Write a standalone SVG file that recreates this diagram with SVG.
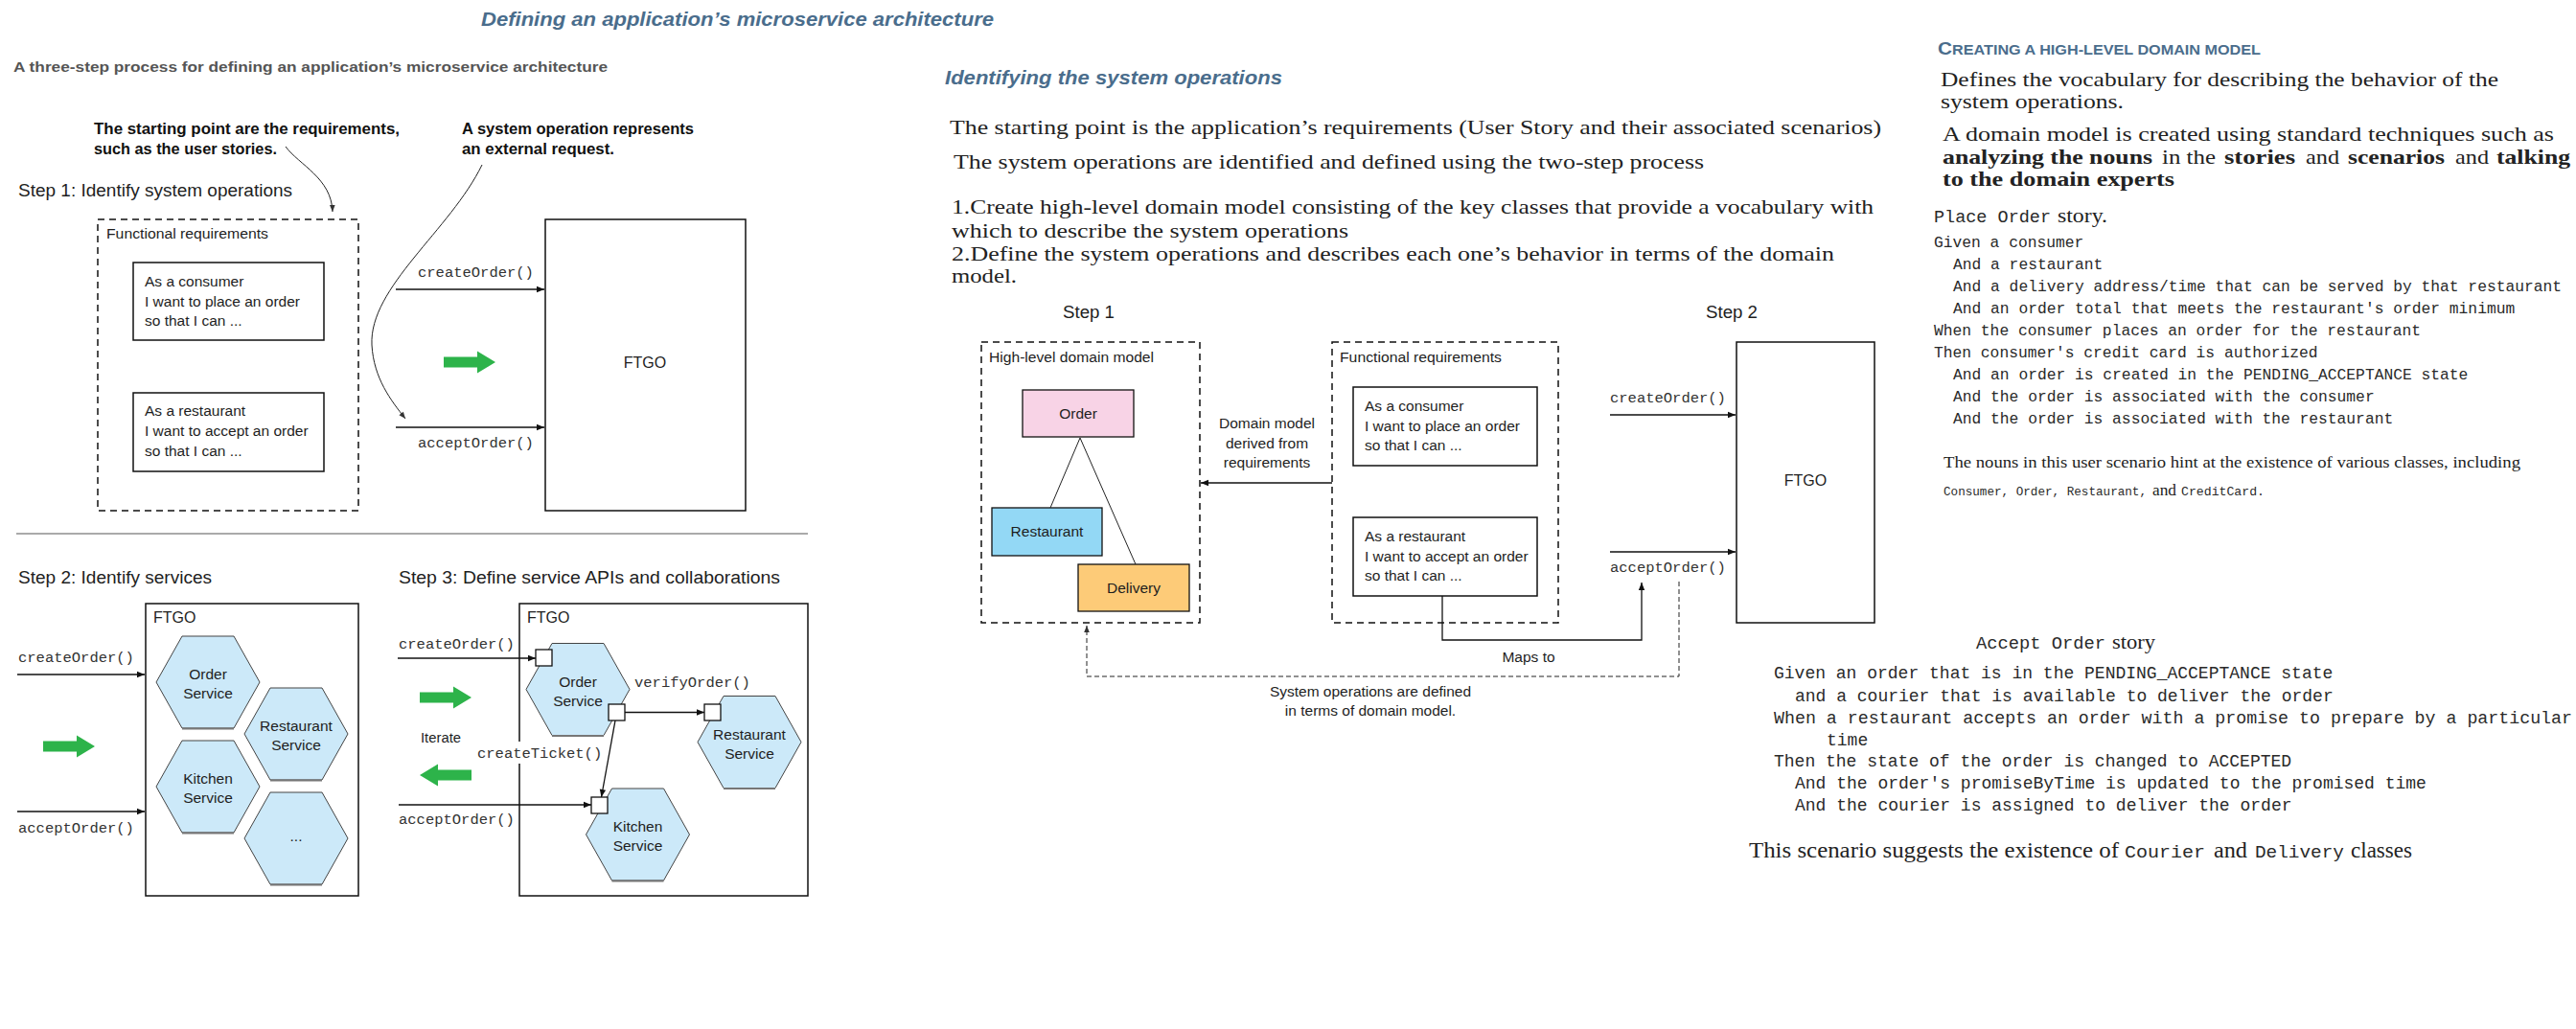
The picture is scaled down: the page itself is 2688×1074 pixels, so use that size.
<svg xmlns="http://www.w3.org/2000/svg" xmlns:xlink="http://www.w3.org/1999/xlink" width="2688" height="1074" viewBox="0 0 2688 1074">
<style>
text{fill:#1e1e1e}
.hd{font-family:"Liberation Sans",Arial,sans-serif;font-weight:bold;font-style:italic;font-size:21px;fill:#4a6d8c}
.sub{font-family:"Liberation Sans",Arial,sans-serif;font-weight:bold;font-size:15px;fill:#555}
.ann{font-family:"Liberation Sans",Arial,sans-serif;font-weight:bold;font-size:17px;fill:#111}
.step{font-family:"Liberation Sans",Arial,sans-serif;font-size:18px;fill:#1e1e1e}
.lbl{font-family:"Liberation Sans",Arial,sans-serif;font-size:15.5px;fill:#1e1e1e}
.ctr{text-anchor:middle}
.code{font-family:"Liberation Mono","Courier New",monospace;font-size:15.5px;fill:#333}
.ser{font-family:"Liberation Serif","Times New Roman",serif;font-size:21px;fill:#222}
.ser2{font-family:"Liberation Serif","Times New Roman",serif;font-size:22px;fill:#222}
.mono{font-family:"Liberation Mono","Courier New",monospace;fill:#2a2a2a}
.box{fill:#fff;stroke:#111;stroke-width:1.5}
.dash{fill:none;stroke:#111;stroke-width:1.5;stroke-dasharray:7 5}
.ln{fill:none;stroke:#111;stroke-width:1.3}
.thin{fill:none;stroke:#222;stroke-width:1}
.sq{fill:#fff;stroke:#111;stroke-width:1.3}
</style>
<defs>
<marker id="ah" viewBox="0 0 10 10" refX="10" refY="5" markerWidth="10" markerHeight="8" markerUnits="userSpaceOnUse" orient="auto"><path d="M0,1 L10,5 L0,9 Z" fill="#111"/></marker>
<marker id="ahs" viewBox="0 0 10 10" refX="10" refY="5" markerWidth="8" markerHeight="7" markerUnits="userSpaceOnUse" orient="auto"><path d="M0,1 L10,5 L0,9 Z" fill="#333"/></marker>
<g id="hex">
<polygon points="-54,0 -27,-48 27,-48 54,0 27,48 -27,48" fill="#cce9f9" stroke="#444" stroke-width="1"/>
<line x1="-27" y1="48.5" x2="27" y2="48.5" stroke="#777" stroke-width="2"/>
</g>
<path id="garrow" d="M-27,-5.5 H8 V-11.5 L27,0 L8,11.5 V5.5 H-27 Z" fill="#2db34a"/>
</defs>

<!-- ================= LEFT SECTION ================= -->
<text class="hd" x="502" y="27" textLength="535" lengthAdjust="spacingAndGlyphs">Defining an application’s microservice architecture</text>
<text class="sub" x="14" y="75" textLength="620" lengthAdjust="spacingAndGlyphs">A three-step process for defining an application’s microservice architecture</text>

<g id="annotations">
<text class="ann" x="98" y="140" textLength="319" lengthAdjust="spacingAndGlyphs">The starting point are the requirements,</text>
<text class="ann" x="98" y="161" textLength="191" lengthAdjust="spacingAndGlyphs">such as the user stories.</text>
<text class="ann" x="482" y="140" textLength="242" lengthAdjust="spacingAndGlyphs">A system operation represents</text>
<text class="ann" x="482" y="161" textLength="159" lengthAdjust="spacingAndGlyphs">an external request.</text>
</g>

<text class="step" x="19" y="205" textLength="286" lengthAdjust="spacingAndGlyphs">Step 1: Identify system operations</text>

<g id="s1-functional-requirements">
<rect class="dash" x="102" y="229" width="272" height="304"/>
<text class="lbl" x="111" y="249" textLength="169" lengthAdjust="spacingAndGlyphs">Functional requirements</text>
</g>
<g id="s1-story-consumer">
<rect class="box" x="139" y="274" width="199" height="81"/>
<text class="lbl" x="151" y="299">As a consumer</text>
<text class="lbl" x="151" y="320">I want to place an order</text>
<text class="lbl" x="151" y="340">so that I can ...</text>
</g>
<g id="s1-story-restaurant">
<rect class="box" x="139" y="410" width="199" height="82"/>
<text class="lbl" x="151" y="434">As a restaurant</text>
<text class="lbl" x="151" y="455">I want to accept an order</text>
<text class="lbl" x="151" y="476">so that I can ...</text>
</g>
<g id="s1-ftgo">
<rect class="box" x="569" y="229" width="209" height="304"/>
<text class="lbl ctr" x="673" y="384" style="font-size:16px">FTGO</text>
</g>
<use href="#garrow" transform="translate(490,378)"/>

<g id="s1-connectors">
<line class="ln" x1="413" y1="302" x2="568" y2="302" marker-end="url(#ah)"/>
<line class="ln" x1="413" y1="446" x2="568" y2="446" marker-end="url(#ah)"/>
<path class="thin" d="M298,153 C312,172 346,186 347,221" marker-end="url(#ahs)"/>
<path class="thin" d="M503,172 C470,240 385,300 388,360 C390,395 408,418 423,437" marker-end="url(#ahs)"/>
<text class="code" x="436" y="289">createOrder()</text>
<text class="code" x="436" y="467">acceptOrder()</text>
</g>

<line x1="17" y1="557" x2="843" y2="557" stroke="#aaa" stroke-width="2"/>

<text class="step" x="19" y="609" textLength="202" lengthAdjust="spacingAndGlyphs">Step 2: Identify services</text>
<text class="step" x="416" y="609" textLength="398" lengthAdjust="spacingAndGlyphs">Step 3: Define service APIs and collaborations</text>

<!-- Step 2 -->
<g id="s2-ftgo">
<rect class="box" x="152" y="630" width="222" height="305"/>
<text class="lbl" x="160" y="650" style="font-size:16px">FTGO</text>
</g>
<g id="s2-order-service">
<use href="#hex" transform="translate(217,712)"/>
<text class="lbl ctr" x="217" y="709">Order</text>
<text class="lbl ctr" x="217" y="729">Service</text>
</g>
<g id="s2-restaurant-service">
<use href="#hex" transform="translate(309,766)"/>
<text class="lbl ctr" x="309" y="763">Restaurant</text>
<text class="lbl ctr" x="309" y="783">Service</text>
</g>
<g id="s2-kitchen-service">
<use href="#hex" transform="translate(217,821)"/>
<text class="lbl ctr" x="217" y="818">Kitchen</text>
<text class="lbl ctr" x="217" y="838">Service</text>
</g>
<g id="s2-more">
<use href="#hex" transform="translate(309,875)"/>
<text class="lbl ctr" x="309" y="878">...</text>
</g>
<use href="#garrow" transform="translate(72,779)"/>
<g id="s2-connectors">
<line class="ln" x1="18" y1="704" x2="151" y2="704" marker-end="url(#ah)"/>
<line class="ln" x1="18" y1="847" x2="151" y2="847" marker-end="url(#ah)"/>
<text class="code" x="19" y="691">createOrder()</text>
<text class="code" x="19" y="869">acceptOrder()</text>
</g>

<!-- Step 3 -->
<g id="s3-ftgo">
<rect class="box" x="542" y="630" width="301" height="305"/>
<text class="lbl" x="550" y="650" style="font-size:16px">FTGO</text>
</g>
<g id="s3-order-service">
<use href="#hex" transform="translate(603,719.5)"/>
<text class="lbl ctr" x="603" y="716.5">Order</text>
<text class="lbl ctr" x="603" y="737">Service</text>
<rect class="sq" x="559" y="678" width="17" height="17"/>
<rect class="sq" x="635" y="735" width="17" height="17"/>
</g>
<g id="s3-restaurant-service">
<use href="#hex" transform="translate(782,774.5)"/>
<text class="lbl ctr" x="782" y="771.5">Restaurant</text>
<text class="lbl ctr" x="782" y="791.5">Service</text>
<rect class="sq" x="735" y="735" width="17" height="17"/>
</g>
<g id="s3-kitchen-service">
<use href="#hex" transform="translate(665.5,871)"/>
<text class="lbl ctr" x="665.5" y="868">Kitchen</text>
<text class="lbl ctr" x="665.5" y="888">Service</text>
<rect class="sq" x="617" y="832" width="17" height="17"/>
</g>
<use href="#garrow" transform="translate(465,728)"/>
<use href="#garrow" transform="translate(465,809) scale(-1,1)"/>
<text class="lbl" x="439" y="775" textLength="42" lengthAdjust="spacingAndGlyphs">Iterate</text>
<g id="s3-connectors">
<line class="ln" x1="415" y1="687" x2="559" y2="687" marker-end="url(#ah)"/>
<line class="ln" x1="652" y1="743.5" x2="735" y2="743.5" marker-end="url(#ah)"/>
<line class="ln" x1="642" y1="752" x2="627.5" y2="832" marker-end="url(#ah)"/>
<line class="ln" x1="416" y1="840" x2="617" y2="840" marker-end="url(#ah)"/>
<rect x="496" y="774" width="132" height="23" fill="#fff"/>
<text class="code" x="498" y="791">createTicket()</text>
<text class="code" x="662" y="717">verifyOrder()</text>
<text class="code" x="416" y="677">createOrder()</text>
<text class="code" x="416" y="860">acceptOrder()</text>
</g>

<!-- ================= MIDDLE SECTION ================= -->
<text class="hd" x="986" y="88" textLength="352" lengthAdjust="spacingAndGlyphs">Identifying the system operations</text>
<g id="intro-text">
<text class="ser" x="991" y="140" textLength="972" lengthAdjust="spacingAndGlyphs">The starting point is the application’s requirements (User Story and their associated scenarios)</text>
<text class="ser" x="995" y="176" textLength="783" lengthAdjust="spacingAndGlyphs">The system operations are identified and defined using the two-step process</text>
<text class="ser" x="993" y="223" textLength="962" lengthAdjust="spacingAndGlyphs">1.Create high-level domain model consisting of the key classes that provide a vocabulary with</text>
<text class="ser" x="993" y="248" textLength="414" lengthAdjust="spacingAndGlyphs">which to describe the system operations</text>
<text class="ser" x="993" y="272" textLength="921" lengthAdjust="spacingAndGlyphs">2.Define the system operations and describes each one’s behavior in terms of the domain</text>
<text class="ser" x="993" y="295" textLength="68" lengthAdjust="spacingAndGlyphs">model.</text>
</g>

<text class="step" x="1109" y="332" textLength="54" lengthAdjust="spacingAndGlyphs">Step 1</text>
<text class="step" x="1780" y="332" textLength="54" lengthAdjust="spacingAndGlyphs">Step 2</text>

<g id="m-domain-model">
<rect class="dash" x="1024" y="357" width="228" height="293"/>
<text class="lbl" x="1032" y="378" textLength="172" lengthAdjust="spacingAndGlyphs">High-level domain model</text>
</g>
<g id="m-order">
<rect x="1067" y="407" width="116" height="49" fill="#f8d3e6" stroke="#111" stroke-width="1.3"/>
<text class="lbl ctr" x="1125" y="437">Order</text>
</g>
<g id="m-restaurant">
<rect x="1035" y="530" width="115" height="50" fill="#93d8f5" stroke="#111" stroke-width="1.3"/>
<text class="lbl ctr" x="1092.5" y="560">Restaurant</text>
</g>
<g id="m-delivery">
<rect x="1125" y="589" width="116" height="49" fill="#fdcb78" stroke="#111" stroke-width="1.3"/>
<text class="lbl ctr" x="1183" y="619">Delivery</text>
</g>
<g id="m-functional-requirements">
<rect class="dash" x="1390" y="357" width="236" height="293"/>
<text class="lbl" x="1398" y="378" textLength="169" lengthAdjust="spacingAndGlyphs">Functional requirements</text>
</g>
<g id="m-story-consumer">
<rect class="box" x="1412" y="404" width="192" height="82"/>
<text class="lbl" x="1424" y="429">As a consumer</text>
<text class="lbl" x="1424" y="450">I want to place an order</text>
<text class="lbl" x="1424" y="470">so that I can ...</text>
</g>
<g id="m-story-restaurant">
<rect class="box" x="1412" y="540" width="192" height="82"/>
<text class="lbl" x="1424" y="565">As a restaurant</text>
<text class="lbl" x="1424" y="586">I want to accept an order</text>
<text class="lbl" x="1424" y="606">so that I can ...</text>
</g>
<g id="m-ftgo">
<rect class="box" x="1812" y="357" width="144" height="293"/>
<text class="lbl ctr" x="1884" y="507" style="font-size:16px">FTGO</text>
</g>

<g id="m-connectors">
<line class="thin" x1="1127" y1="457" x2="1096" y2="530"/>
<line class="thin" x1="1127" y1="457" x2="1185" y2="589"/>
<line class="ln" x1="1390" y1="504" x2="1253" y2="504" marker-end="url(#ah)"/>
<line class="ln" x1="1680" y1="433" x2="1811" y2="433" marker-end="url(#ah)"/>
<line class="ln" x1="1680" y1="576" x2="1811" y2="576" marker-end="url(#ah)"/>
<polyline class="ln" points="1505,622 1505,668 1713,668 1713,608" marker-end="url(#ah)"/>
<polyline fill="none" stroke="#222" stroke-width="1" stroke-dasharray="5 3" points="1752,607 1752,706 1134,706 1134,653" marker-end="url(#ahs)"/>
<text class="lbl ctr" x="1322" y="447">Domain model</text>
<text class="lbl ctr" x="1322" y="468">derived from</text>
<text class="lbl ctr" x="1322" y="488">requirements</text>
<text class="code" x="1680" y="420">createOrder()</text>
<text class="code" x="1680" y="597">acceptOrder()</text>
<text class="lbl ctr" x="1595" y="691">Maps to</text>
<text class="lbl ctr" x="1430" y="727">System operations are defined</text>
<text class="lbl ctr" x="1430" y="747">in terms of domain model.</text>
</g>

<!-- ================= RIGHT SECTION ================= -->
<text x="2022" y="57" textLength="337" lengthAdjust="spacingAndGlyphs" style="font-family:'Liberation Sans',Arial,sans-serif;font-weight:bold;fill:#4a6d8c"><tspan style="font-size:18px">C</tspan><tspan style="font-size:14px">REATING A HIGH-LEVEL DOMAIN MODEL</tspan></text>
<text class="ser2" x="2025" y="90" textLength="582" lengthAdjust="spacingAndGlyphs">Defines the vocabulary for describing the behavior of the</text>
<text class="ser2" x="2025" y="113" textLength="191" lengthAdjust="spacingAndGlyphs">system operations.</text>
<text class="ser2" x="2027" y="147" textLength="638" lengthAdjust="spacingAndGlyphs">A domain model is created using standard techniques such as</text>
<text class="ser2" x="2027" y="171" font-weight="bold" textLength="219" lengthAdjust="spacingAndGlyphs">analyzing the nouns</text>
<text class="ser2" x="2256" y="171" textLength="56" lengthAdjust="spacingAndGlyphs">in the</text>
<text class="ser2" x="2321" y="171" font-weight="bold" textLength="74" lengthAdjust="spacingAndGlyphs">stories</text>
<text class="ser2" x="2406" y="171" textLength="35" lengthAdjust="spacingAndGlyphs">and</text>
<text class="ser2" x="2450" y="171" font-weight="bold" textLength="101" lengthAdjust="spacingAndGlyphs">scenarios</text>
<text class="ser2" x="2562" y="171" textLength="35" lengthAdjust="spacingAndGlyphs">and</text>
<text class="ser2" x="2605" y="171" font-weight="bold" textLength="77" lengthAdjust="spacingAndGlyphs">talking</text>
<text class="ser2" x="2027" y="194" font-weight="bold" textLength="242" lengthAdjust="spacingAndGlyphs">to the domain experts</text>

<text class="mono" x="2018" y="232" style="font-size:19px" textLength="122" lengthAdjust="spacingAndGlyphs">Place Order</text>
<text class="ser2" x="2147" y="232" style="font-size:21px" textLength="52" lengthAdjust="spacingAndGlyphs">story.</text>
<g id="place-order-story" class="mono" style="font-size:16.3px">
<text class="mono" x="2018" y="258">Given a consumer</text>
<text class="mono" x="2038" y="281">And a restaurant</text>
<text class="mono" x="2038" y="304">And a delivery address/time that can be served by that restaurant</text>
<text class="mono" x="2038" y="327">And an order total that meets the restaurant's order minimum</text>
<text class="mono" x="2018" y="350">When the consumer places an order for the restaurant</text>
<text class="mono" x="2018" y="373">Then consumer's credit card is authorized</text>
<text class="mono" x="2038" y="396">And an order is created in the PENDING_ACCEPTANCE state</text>
<text class="mono" x="2038" y="419">And the order is associated with the consumer</text>
<text class="mono" x="2038" y="442">And the order is associated with the restaurant</text>
</g>
<text class="ser" x="2028" y="488" textLength="602" lengthAdjust="spacingAndGlyphs" style="font-size:17.5px">The nouns in this user scenario hint at the existence of various classes, including</text>
<text class="mono" x="2028" y="517" style="font-size:13px" textLength="212" lengthAdjust="spacingAndGlyphs">Consumer, Order, Restaurant,</text>
<text class="ser" x="2246" y="517" style="font-size:17px" textLength="25" lengthAdjust="spacingAndGlyphs">and</text>
<text class="mono" x="2276" y="517" style="font-size:13px" textLength="87" lengthAdjust="spacingAndGlyphs">CreditCard.</text>

<text class="mono" x="2062" y="677" style="font-size:19px" textLength="135" lengthAdjust="spacingAndGlyphs">Accept Order</text>
<text class="ser" x="2204" y="677" style="font-size:21px" textLength="45" lengthAdjust="spacingAndGlyphs">story</text>
<g id="accept-order-story" class="mono" style="font-size:18px">
<text class="mono" x="1851" y="708" style="font-size:18px">Given an order that is in the PENDING_ACCEPTANCE state</text>
<text class="mono" x="1873" y="732" style="font-size:18px">and a courier that is available to deliver the order</text>
<text class="mono" x="1851" y="755" style="font-size:18px" textLength="833" lengthAdjust="spacingAndGlyphs">When a restaurant accepts an order with a promise to prepare by a particular</text>
<text class="mono" x="1906" y="778" style="font-size:18px">time</text>
<text class="mono" x="1851" y="800" style="font-size:18px">Then the state of the order is changed to ACCEPTED</text>
<text class="mono" x="1873" y="823" style="font-size:18px">And the order's promiseByTime is updated to the promised time</text>
<text class="mono" x="1873" y="846" style="font-size:18px">And the courier is assigned to deliver the order</text>
</g>
<text class="ser" x="1825" y="895" style="font-size:22.5px" textLength="386" lengthAdjust="spacingAndGlyphs">This scenario suggests the existence of</text>
<text class="mono" x="2217" y="895" style="font-size:19px" textLength="84" lengthAdjust="spacingAndGlyphs">Courier</text>
<text class="ser" x="2310" y="895" style="font-size:22.5px" textLength="35" lengthAdjust="spacingAndGlyphs">and</text>
<text class="mono" x="2353" y="895" style="font-size:19px" textLength="93" lengthAdjust="spacingAndGlyphs">Delivery</text>
<text class="ser" x="2453" y="895" style="font-size:22.5px" textLength="64" lengthAdjust="spacingAndGlyphs">classes</text>
</svg>
